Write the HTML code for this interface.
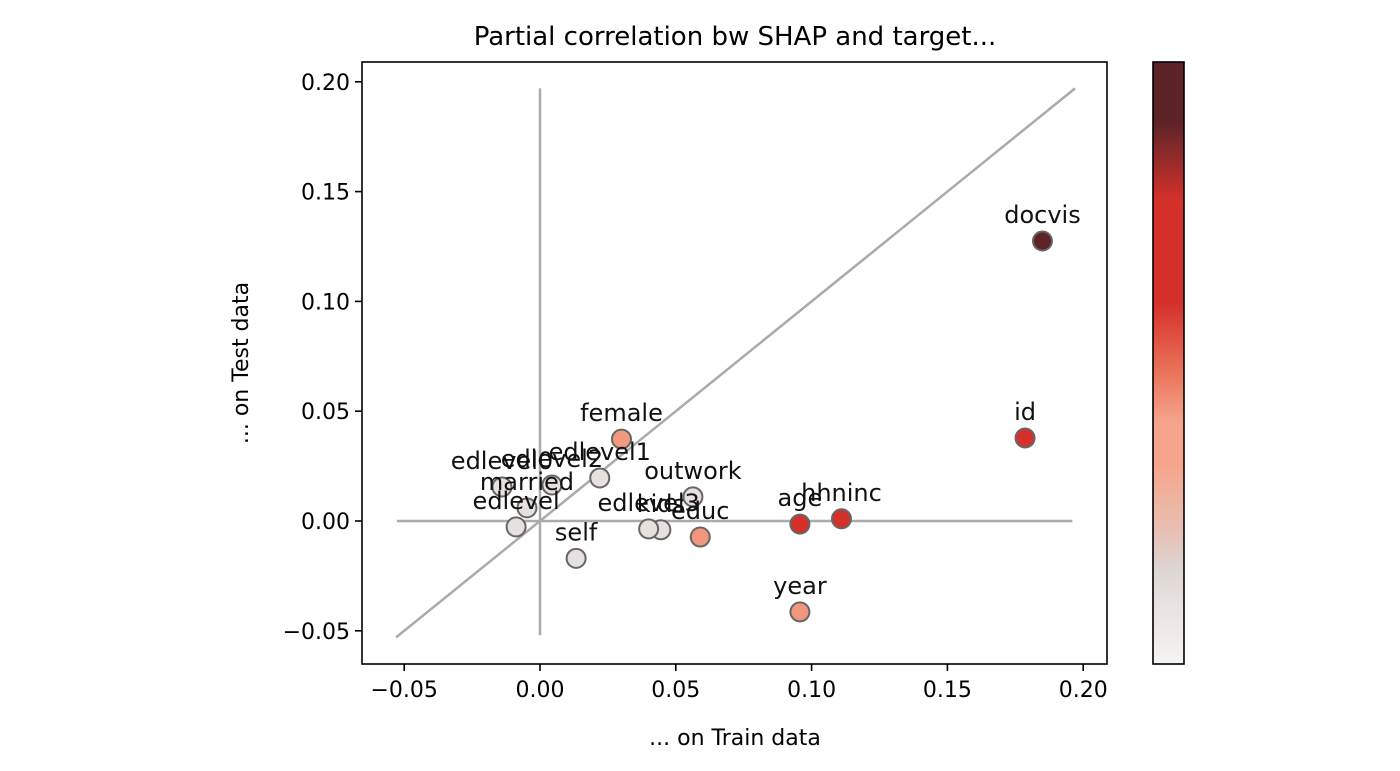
<!DOCTYPE html>
<html><head><meta charset="utf-8"><style>
html,body{margin:0;padding:0;background:#fff;}
svg{display:block;font-family:"DejaVu Sans","Liberation Sans",sans-serif;}
</style></head><body>
<svg id="chart" width="1400" height="771">
<defs>
<linearGradient id="cmap" x1="0" y1="1" x2="0" y2="0">
<stop offset="0" stop-color="#f6f3f3"/>
<stop offset="0.1" stop-color="#e8e2e0"/>
<stop offset="0.16" stop-color="#ddd5d2"/>
<stop offset="0.22" stop-color="#e8c0b4"/>
<stop offset="0.33" stop-color="#f6a58c"/>
<stop offset="0.4" stop-color="#f6a58c"/>
<stop offset="0.5" stop-color="#e86a52"/>
<stop offset="0.6" stop-color="#d5302a"/>
<stop offset="0.77" stop-color="#d5302a"/>
<stop offset="0.85" stop-color="#8a2a2a"/>
<stop offset="0.9" stop-color="#5e2326"/>
<stop offset="1" stop-color="#5e2326"/>
</linearGradient>
</defs>
<text x="735" y="45" font-size="26" text-anchor="middle">Partial correlation bw SHAP and target...</text>
<rect x="362" y="62" width="745" height="602" fill="none" stroke="#000" stroke-width="1.6"/>
<g id="ref-lines"></g>
<g id="axes"></g>
<g id="points"></g>
<text x="735" y="745" font-size="22" text-anchor="middle">... on Train data</text>
<text transform="translate(248,363) rotate(-90)" font-size="22" text-anchor="middle">... on Test data</text>
<rect x="1153" y="62" width="31" height="602" fill="url(#cmap)" stroke="#000" stroke-width="1.6"/>
</svg>
<script>
const labels = ["docvis","id","hhninc","age","year","educ","kids","edlevel3","outwork","self","female","edlevel1","edlevel0","edlevel2","married","edlevel"];
const trainVals = [0.185,0.1786,0.111,0.0957,0.0957,0.059,0.0445,0.040,0.0563,0.0133,0.030,0.022,-0.014,0.0044,-0.0048,-0.0088];
const testVals = [0.1275,0.0378,0.001,-0.0014,-0.0414,-0.0073,-0.004,-0.0036,0.011,-0.017,0.0373,0.0196,0.0155,0.0164,0.006,-0.0027];
const colorVals = [1.0,0.7,0.7,0.7,0.42,0.42,0.1,0.1,0.1,0.1,0.4,0.1,0.1,0.1,0.1,0.1];
const xTicks = [-0.05,0,0.05,0.1,0.15,0.2];
const yTicks = [-0.05,0,0.05,0.1,0.15,0.2];
const xTickLabels = ["\u22120.05","0.00","0.05","0.10","0.15","0.20"];
const yTickLabels = ["\u22120.05","0.00","0.05","0.10","0.15","0.20"];

const NS="http://www.w3.org/2000/svg";
function X(v){return 540+v*2716;}
function Y(v){return 521-v*2196;}
function mk(tag,attrs,parent){const e=document.createElementNS(NS,tag);for(const k in attrs)e.setAttribute(k,attrs[k]);parent.appendChild(e);return e;}
function cmap(t){
  const stops=[[0,[246,243,243]],[0.16,[221,213,210]],[0.33,[246,165,140]],[0.42,[242,150,125]],[0.6,[213,48,42]],[0.77,[213,48,42]],[0.9,[94,35,38]],[1,[94,35,38]]];
  for(let i=1;i<stops.length;i++){if(t<=stops[i][0]){const a=stops[i-1],b=stops[i];const f=(t-a[0])/(b[0]-a[0]);return "rgb("+a[1].map((c,j)=>Math.round(c+(b[1][j]-c)*f)).join(",")+")";}}
  return "rgb(94,35,38)";
}
const ref=document.getElementById('ref-lines');
let l=mk('line',{x1:X(-0.0527),y1:Y(0),x2:X(0.196),y2:Y(0),stroke:"#aaa","stroke-width":2.5},ref);


l=mk('line',{x1:X(0),y1:Y(-0.052),x2:X(0),y2:Y(0.197),stroke:"#aaa","stroke-width":2.5},ref);


l=mk('line',{x1:X(-0.053),y1:Y(-0.053),x2:X(0.197),y2:Y(0.197),stroke:"#aaa","stroke-width":2.5},ref);



const ax=document.getElementById('axes');
xTicks.forEach((v,i)=>{
  const t=mk('line',{x1:X(v),y1:664,x2:X(v),y2:671,stroke:"#000","stroke-width":1.6},ax);
  
  
  const tx=mk('text',{x:X(v),y:697,"font-size":22,"text-anchor":"middle"},ax);
  tx.textContent=xTickLabels[i];
  
  
});
yTicks.forEach((v,i)=>{
  const t=mk('line',{x1:355,y1:Y(v),x2:362,y2:Y(v),stroke:"#000","stroke-width":1.6},ax);
  
  
  const tx=mk('text',{x:350,y:Y(v)+8,"font-size":22,"text-anchor":"end"},ax);
  tx.textContent=yTickLabels[i];
  
  
});
const pts=document.getElementById('points');
labels.forEach((lab,i)=>{
  const c=mk('circle',{cx:X(trainVals[i]),cy:Y(testVals[i]),r:9.5,fill:cmap(colorVals[i]),stroke:"#666","stroke-width":2},pts);
  
  
});
labels.forEach((lab,i)=>{
  const t=mk('text',{x:X(trainVals[i]),y:Y(testVals[i])-18,"font-size":24,"text-anchor":"middle",fill:"#111"},pts);
  t.textContent=lab;
  
  
});
</script>
</body></html>
